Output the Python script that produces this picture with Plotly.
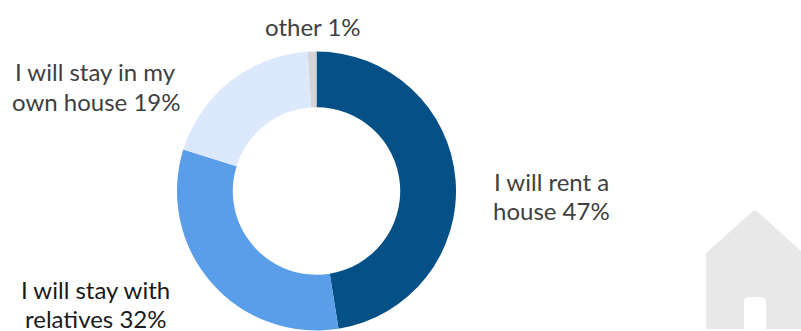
import plotly.graph_objects as go

W, H = 801, 331

# Survey answers, listed clockwise from twelve o'clock
answers = ["I will rent a house", "I will stay with relatives", "I will stay in my own house", "other"]
shares = [47, 32, 19, 1]
slice_colors = ["#045087", "#5a9de8", "#dce9fd", "#d4d4d4"]

# Label text broken into lines: the share is appended to the last line of each
label_lines = [["I will rent a", "house"], ["I will stay with", "relatives"], ["I will stay in my", "own house"], ["other"]]
label_colors = ["#404040", "#1a1a1a", "#404040", "#404040"]
label_center_x = [551, 95.5, 95.5, 312.5]
label_first_line_y = [181, 289, 72, 27]
LINE_STEP = 29


def px_x(x):
    return x / W


def px_y(y):
    return 1 - y / H


fig = go.Figure(
    go.Pie(
        labels=answers,
        values=shares,
        hole=0.6,
        sort=False,
        direction="clockwise",
        rotation=0,
        marker=dict(colors=slice_colors, line=dict(width=0)),
        textinfo="none",
        hoverinfo="label+percent",
        showlegend=False,
        domain=dict(x=[px_x(177), px_x(456)], y=[px_y(330.5), px_y(51.5)]),
    )
)

for lines, share, color, x, y0 in zip(label_lines, shares, label_colors, label_center_x, label_first_line_y):
    for i, line in enumerate(lines):
        text = f"{line} {share}%" if i == len(lines) - 1 else line
        fig.add_annotation(
            text=text,
            x=px_x(x),
            y=px_y(y0 + i * LINE_STEP),
            xref="paper",
            yref="paper",
            xanchor="center",
            yanchor="middle",
            align="center",
            showarrow=False,
            font=dict(family="Lato", size=24, color=color),
        )

# Pale house icon in the lower right corner, with a round-topped door
house_path = "M 706 253 L 752 212 Q 755 209 758 212 L 801 251 L 801 329 L 706 329 Z"
door_path = "M 744 329 L 744 302 Q 744 297 749 297 L 761 297 Q 766 297 766 302 L 766 329 Z"


def to_paper(path):
    out, is_x = [], True
    for token in path.split():
        if token.isalpha():
            out.append(token)
        else:
            out.append(f"{px_x(float(token)):.5f}" if is_x else f"{px_y(float(token)):.5f}")
            is_x = not is_x
    return " ".join(out)


fig.add_shape(type="path", path=to_paper(house_path), xref="paper", yref="paper",
              fillcolor="#e8e8e8", line=dict(width=0), layer="below")
fig.add_shape(type="path", path=to_paper(door_path), xref="paper", yref="paper",
              fillcolor="#ffffff", line=dict(width=0), layer="below")

fig.update_layout(
    width=W,
    height=H,
    margin=dict(l=0, r=0, t=0, b=0),
    paper_bgcolor="#ffffff",
    plot_bgcolor="#ffffff",
)

fig.write_html("out.html", config=dict(displayModeBar=False))
